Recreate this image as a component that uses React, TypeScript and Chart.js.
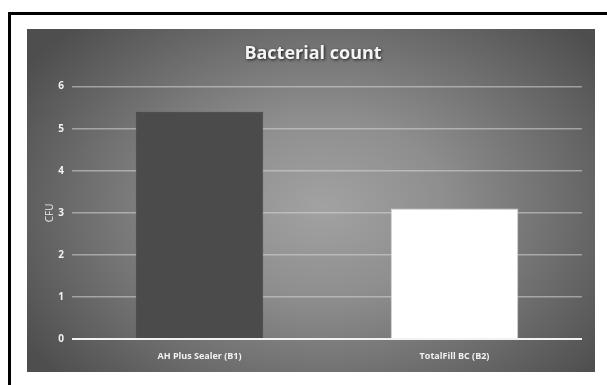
import React, { useEffect, useRef } from "react";
import { Chart, registerables } from "chart.js";

Chart.register(...registerables);

const categories = ["AH Plus Sealer (B1)", "TotalFill BC (B2)"];
const cfuValues = [5.4, 3.1];
const barColors = ["#4b4b4b", "#ffffff"];
const chartTitle = "Bacterial count";
const yAxisTitle = "CFU";
const yMin = 0;
const yMax = 6;
const yStep = 1;

const titleShadow = {
  id: "titleShadow",
  afterLayout(chart: any) {
    const box = chart.titleBlock;
    if (!box || box.__shadowed) return;
    const orig = box.draw.bind(box);
    box.draw = function (...args: any[]) {
      const ctx = chart.ctx;
      ctx.save();
      ctx.shadowColor = "rgba(0,0,0,0.75)";
      ctx.shadowBlur = 3;
      ctx.shadowOffsetX = 1;
      ctx.shadowOffsetY = 1.5;
      orig(...args);
      ctx.restore();
    };
    box.__shadowed = true;
  },
};

export default function App() {
  const canvasRef = useRef<HTMLCanvasElement | null>(null);

  useEffect(() => {
    const canvas = canvasRef.current;
    if (!canvas) return;
    const chart = new Chart(canvas, {
      type: "bar",
      data: {
        labels: categories,
        datasets: [
          {
            label: yAxisTitle,
            data: cfuValues,
            backgroundColor: barColors,
            borderColor: ["#444444", "#d8d8d8"],
            borderWidth: 1,
            categoryPercentage: 1,
            barPercentage: 0.5,
          },
        ],
      },
      plugins: [titleShadow],
      options: {
        animation: false,
        responsive: false,
        maintainAspectRatio: false,
        layout: { padding: { left: 17, right: 13, top: 0, bottom: 0 } },
        plugins: {
          legend: { display: false },
          tooltip: { enabled: false },
          title: {
            display: true,
            text: chartTitle,
            color: "#f4f4f4",
            font: { family: "'Open Sans', sans-serif", size: 18, weight: "bold" },
            padding: { top: 14, bottom: 22 },
          },
        },
        scales: {
          x: {
            grid: { display: false, drawTicks: false },
            border: { display: false },
            ticks: {
              color: "#f2f2f2",
              padding: 12,
              font: { family: "'Open Sans', sans-serif", size: 9, weight: "bold" },
            },
            afterFit: (scale: any) => {
              scale.height = 33;
            },
          },
          y: {
            min: yMin,
            max: yMax,
            grid: {
              drawTicks: false,
              color: (ctx: any) => (ctx.tick && ctx.tick.value === 0 ? "#f2f2f2" : "rgba(215,215,215,0.55)"),
              lineWidth: (ctx: any) => (ctx.tick && ctx.tick.value === 0 ? 2 : 1.5),
            },
            border: { display: false },
            ticks: {
              stepSize: yStep,
              color: "#f2f2f2",
              padding: 8,
              font: { family: "'Open Sans', sans-serif", size: 10, weight: "bold" },
            },
            title: {
              display: true,
              text: yAxisTitle,
              color: "#e8e8e8",
              padding: 0,
              font: { family: "'Open Sans', sans-serif", size: 10 },
            },
            afterFit: (scale: any) => {
              scale.width = 28;
            },
          },
        },
      },
    });
    return () => chart.destroy();
  }, []);

  return (
    <div style={{ position: "fixed", left: 0, top: 0, width: 607, height: 385, background: "#ffffff", overflow: "hidden" }}>
      <div
        style={{
          position: "absolute",
          left: 8,
          top: 12,
          width: 700,
          height: 500,
          borderTop: "3px solid #000",
          borderLeft: "3px solid #000",
        }}
      />
      <div
        style={{
          position: "absolute",
          left: 27,
          top: 29,
          width: 568,
          height: 343,
          background:
            "radial-gradient(ellipse 62% 75% at 52% 52%, #a2a2a2 0%, #8e8e8e 35%, #6c6c6c 70%, #4e4e4e 100%)",
        }}
      >
        <canvas ref={canvasRef} width={568} height={343} style={{ display: "block", width: 568, height: 343 }} />
      </div>
    </div>
  );
}
